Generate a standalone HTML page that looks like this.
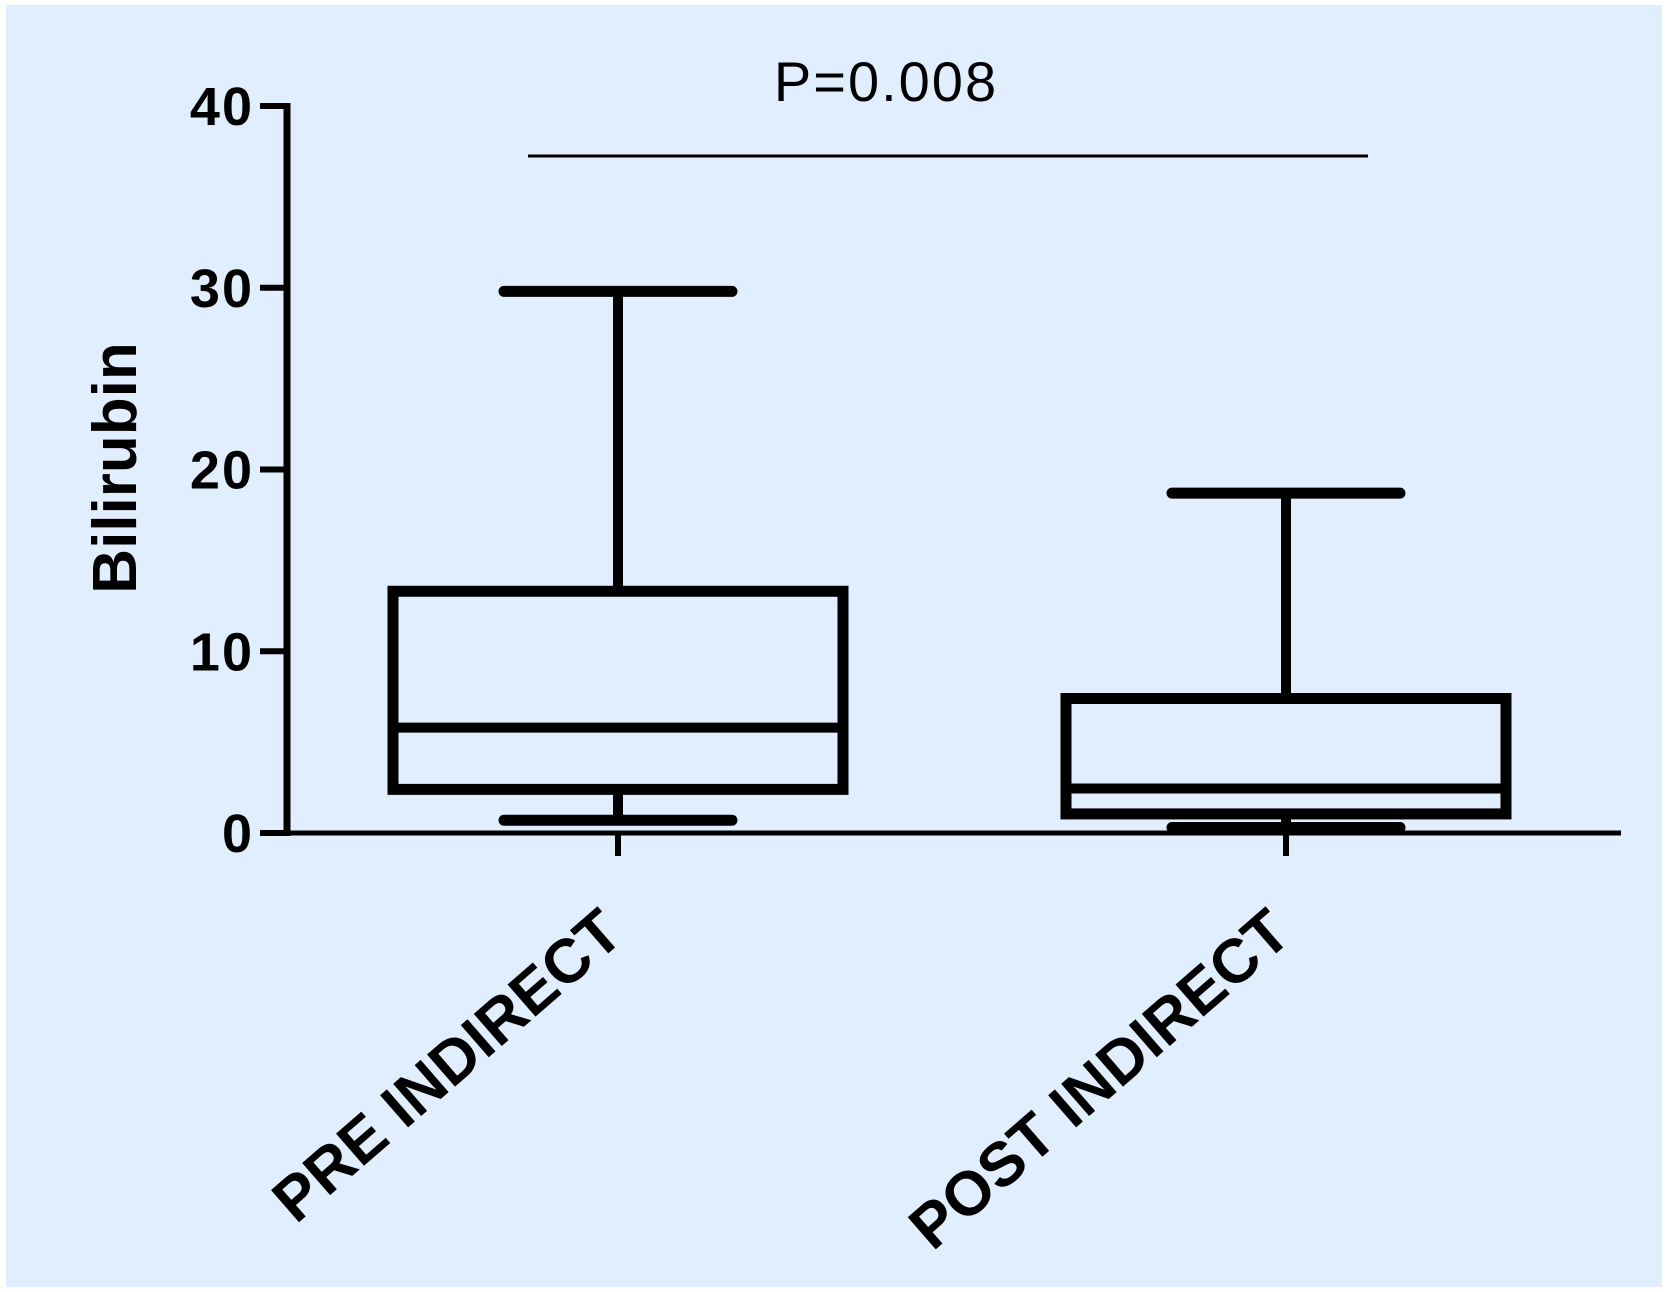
<!DOCTYPE html>
<html><head><meta charset="utf-8"><style>
html,body{margin:0;padding:0;background:#fff;}
svg{display:block;}
</style></head><body>
<svg id="chart" width="1667" height="1292" xmlns="http://www.w3.org/2000/svg">
<rect x="6" y="5" width="1656" height="1282" fill="#e0eefd"/>
<g id="plot"></g>
</svg>
<script>
const categories = ["PRE INDIRECT", "POST INDIRECT"];
const maxVals = [29.8, 18.7];
const q3Vals = [13.3, 7.4];
const medianVals = [5.8, 2.45];
const q1Vals = [2.4, 1.05];
const minVals = [0.7, 0.3];
const yTicks = [0, 10, 20, 30, 40];
const pLabel = "P=0.008";

const NS = "http://www.w3.org/2000/svg";
const g = document.getElementById('plot');
const y0 = 833, yTop = 106, yMax = 40;
const yScale = v => y0 - (v / yMax) * (y0 - yTop);
const xCenters = [618, 1286];
const xScale = i => xCenters[i];
const boxHalf = [225, 220];
const capHalf = 114;

function mk(tag, attrs) {
  const el = document.createElementNS(NS, tag);
  for (const k in attrs) el.setAttribute(k, attrs[k]);
  g.appendChild(el);
  return el;
}

let el = mk('line', {x1:287, y1:yTop-3, x2:287, y2:y0+3, stroke:'#000', 'stroke-width':7});


el = mk('line', {x1:260, y1:y0, x2:1621, y2:y0, stroke:'#000', 'stroke-width':5});



yTicks.forEach(t => {
  const y = yScale(t);
  let tk = mk('line', {x1:260, y1:y, x2:290, y2:y, stroke:'#000', 'stroke-width':6});
  
  
  let tl = mk('text', {x:254, y:y+19, 'text-anchor':'end', 'font-family':'Liberation Sans, sans-serif', 'font-weight':'bold', 'font-size':54, 'letter-spacing':2, fill:'#000'});
  tl.textContent = t;
  
  
});

let yt = mk('text', {x:0, y:0, transform:'translate(136,468) rotate(-90)', 'text-anchor':'middle', 'font-family':'Liberation Sans, sans-serif', 'font-weight':'bold', 'font-size':62, fill:'#000'});
yt.textContent = 'Bilirubin';



categories.forEach((c, i) => {
  const x = xScale(i);
  const bh = boxHalf[i];
  let tk = mk('line', {x1:x, y1:y0, x2:x, y2:856, stroke:'#000', 'stroke-width':6});
  
  
  let w1 = mk('line', {x1:x, y1:yScale(maxVals[i]), x2:x, y2:yScale(q3Vals[i]), stroke:'#000', 'stroke-width':10});
  
  
  let w2 = mk('line', {x1:x, y1:yScale(q1Vals[i]), x2:x, y2:yScale(minVals[i]), stroke:'#000', 'stroke-width':10});
  
  
  let c1 = mk('line', {x1:x-capHalf, y1:yScale(maxVals[i]), x2:x+capHalf, y2:yScale(maxVals[i]), stroke:'#000', 'stroke-width':11, 'stroke-linecap':'round'});
  
  
  let c2 = mk('line', {x1:x-capHalf, y1:yScale(minVals[i]), x2:x+capHalf, y2:yScale(minVals[i]), stroke:'#000', 'stroke-width':11, 'stroke-linecap':'round'});
  
  
  let b = mk('rect', {x:x-bh, y:yScale(q3Vals[i]), width:2*bh, height:yScale(q1Vals[i])-yScale(q3Vals[i]), fill:'#e0eefd', stroke:'#000', 'stroke-width':11});
  
  
  let m = mk('line', {x1:x-bh, y1:yScale(medianVals[i]), x2:x+bh, y2:yScale(medianVals[i]), stroke:'#000', 'stroke-width':10});
  
  
  let lbl = mk('text', {x:0, y:0, transform:`translate(${x+8},${938}) rotate(-41)`, 'text-anchor':'end', 'font-family':'Liberation Sans, sans-serif', 'font-weight':'bold', 'font-size':62, fill:'#000'});
  lbl.textContent = c;
  
  
});

let pl = mk('line', {x1:528, y1:156, x2:1368, y2:156, stroke:'#000', 'stroke-width':3});


let pt = mk('text', {x:886, y:101, 'text-anchor':'middle', 'font-family':'Liberation Sans, sans-serif', 'font-size':56, 'letter-spacing':2, fill:'#000'});
pt.textContent = pLabel;


</script>
</body></html>
